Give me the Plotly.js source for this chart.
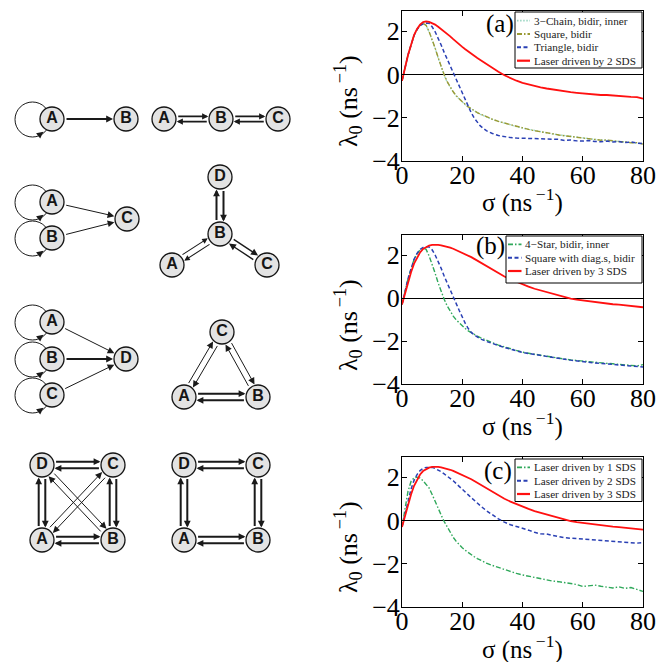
<!DOCTYPE html>
<html><head><meta charset="utf-8">
<script src="https://cdn.plot.ly/plotly-3.0.1.min.js"></script>
<style>html,body{margin:0;padding:0;background:#fff}</style>
</head><body><div id="chart" style="width:670px;height:662px"></div>
<script>
// ---------------- data ----------------
const sigma = [0,0.5,1,2,3,4,5,6,7,8,9,10,11,12,13,14,15,16,17,18,19,20,21,22,23,24,25,26,
  28,30,32,34,36,38,40,42,44,46,48,50,52,54,56,58,60,62,64,66,68,70,72,74,76,78,80];

// panel (a)
const chainA = [-0.3,-0.05,0.3,0.9,1.4,1.8,2.08,2.28,2.36,2.26,1.96,1.6,1.2,0.76,0.35,-0.04,-0.35,-0.6,-0.82,-1.0,-1.15,-1.28,-1.4,-1.5,-1.6,-1.69,-1.77,-1.84,
  -1.97,-2.08,-2.17,-2.26,-2.34,-2.41,-2.48,-2.54,-2.6,-2.65,-2.7,-2.75,-2.79,-2.83,-2.87,-2.91,-2.94,-2.97,-3.0,-3.02,-3.05,-3.07,-3.09,-3.12,-3.14,-3.17,-3.2];
const squareA = [-0.3,-0.05,0.3,0.9,1.4,1.8,2.08,2.28,2.36,2.27,1.98,1.62,1.22,0.78,0.37,-0.02,-0.33,-0.59,-0.8,-0.99,-1.14,-1.27,-1.39,-1.5,-1.6,-1.68,-1.76,-1.83,
  -1.96,-2.07,-2.17,-2.25,-2.33,-2.41,-2.47,-2.54,-2.6,-2.64,-2.7,-2.74,-2.8,-2.83,-2.86,-2.92,-2.93,-2.98,-3.0,-3.04,-3.03,-3.08,-3.1,-3.11,-3.16,-3.15,-3.22];
const triangleA = [-0.3,-0.05,0.3,0.9,1.4,1.8,2.08,2.25,2.34,2.37,2.36,2.2,1.97,1.7,1.36,1.02,0.7,0.4,0.12,-0.18,-0.5,-0.85,-1.18,-1.5,-1.78,-2.02,-2.22,-2.38,
  -2.6,-2.73,-2.82,-2.88,-2.92,-2.94,-2.95,-2.96,-2.98,-2.97,-3.0,-3.02,-3.0,-3.05,-3.03,-3.07,-3.08,-3.05,-3.1,-3.11,-3.08,-3.12,-3.1,-3.15,-3.12,-3.17,-3.2];
const laser2A = [-0.3,-0.05,0.3,0.9,1.4,1.82,2.1,2.3,2.42,2.45,2.43,2.38,2.3,2.2,2.1,2.0,1.88,1.76,1.63,1.5,1.38,1.27,1.16,1.05,0.95,0.85,0.76,0.67,
  0.48,0.3,0.12,-0.04,-0.17,-0.29,-0.39,-0.47,-0.54,-0.6,-0.65,-0.7,-0.74,-0.78,-0.82,-0.85,-0.88,-0.9,-0.93,-0.95,-0.95,-0.98,-1.0,-1.02,-1.04,-1.05,-1.12];

// panel (b)
const starB = [-0.3,-0.05,0.3,0.9,1.4,1.8,2.05,2.24,2.32,2.26,1.96,1.58,1.15,0.7,0.3,-0.06,-0.37,-0.62,-0.84,-1.02,-1.17,-1.3,-1.42,-1.53,-1.62,-1.7,-1.77,-1.84,
  -1.97,-2.08,-2.19,-2.28,-2.36,-2.44,-2.52,-2.57,-2.62,-2.67,-2.72,-2.76,-2.8,-2.84,-2.88,-2.91,-2.95,-2.97,-3.0,-3.02,-3.04,-3.06,-3.09,-3.1,-3.13,-3.16,-3.1];
const squareDiagB = [-0.3,-0.05,0.3,0.9,1.4,1.8,2.08,2.26,2.35,2.38,2.37,2.24,2.0,1.72,1.38,1.02,0.68,0.36,0.06,-0.26,-0.58,-0.9,-1.18,-1.42,-1.6,-1.72,-1.82,-1.9,
  -2.02,-2.12,-2.21,-2.3,-2.38,-2.46,-2.53,-2.58,-2.63,-2.68,-2.73,-2.78,-2.81,-2.85,-2.89,-2.93,-2.96,-2.99,-3.02,-3.04,-3.06,-3.08,-3.11,-3.13,-3.16,-3.18,-3.21];
const laser3 = [-0.3,-0.05,0.3,0.7,1.2,1.6,1.9,2.12,2.28,2.38,2.44,2.47,2.48,2.47,2.45,2.42,2.38,2.34,2.29,2.23,2.17,2.1,2.04,1.98,1.9,1.82,1.74,1.66,
  1.48,1.3,1.14,1.0,0.87,0.75,0.63,0.53,0.43,0.35,0.27,0.19,0.11,0.04,-0.03,-0.08,-0.12,-0.16,-0.2,-0.23,-0.26,-0.29,-0.31,-0.34,-0.36,-0.38,-0.43];

// panel (c)
const laser1C = [-0.3,0.1,0.6,1.35,1.8,1.97,2.0,1.95,1.83,1.68,1.5,1.2,0.86,0.55,0.25,-0.05,-0.3,-0.55,-0.78,-0.97,-1.13,-1.26,-1.38,-1.49,-1.59,-1.68,-1.76,-1.84,
  -1.97,-2.08,-2.18,-2.28,-2.36,-2.45,-2.52,-2.58,-2.63,-2.7,-2.75,-2.8,-2.83,-2.88,-2.91,-2.96,-3.05,-3.02,-2.99,-3.04,-3.08,-3.12,-3.07,-3.14,-3.1,-3.18,-3.28];
const laser2C = [-0.3,0.0,0.4,1.0,1.45,1.85,2.12,2.3,2.4,2.45,2.46,2.45,2.4,2.33,2.25,2.15,2.05,1.95,1.83,1.7,1.58,1.45,1.32,1.18,1.05,0.92,0.8,0.68,
  0.45,0.25,0.07,-0.08,-0.2,-0.28,-0.35,-0.45,-0.55,-0.62,-0.63,-0.7,-0.75,-0.8,-0.82,-0.85,-0.87,-0.88,-0.9,-0.95,-0.95,-0.97,-1.0,-1.02,-1.05,-1.05,-1.02];

const namesA = ['3\u2212Chain, bidir, inner','Square, bidir','Triangle, bidir','Laser driven by 2 SDS'];
const namesB = ['4\u2212Star, bidir, inner','Square with diag.s, bidir','Laser driven by 3 SDS'];
const namesC = ['Laser driven by 1 SDS','Laser driven by 2 SDS','Laser driven by 3 SDS'];
const panelLabels = ['(a)','(b)','(c)'];
const xTitle = '\u03c3 (ns<sup>\u2009\u22121</sup>)';
const yTitle = '\u03bb<sub>0</sub> (ns<sup>\u2009\u22121</sup>)';
const xTicks = [0,20,40,60,80];
const yTicks = [-4,-2,0,2];

// network diagrams: node labels and positions
const graphs = [
  {labels:['A','B'], nx:[52,126], ny:[119,119], loops:['A'], single:[['A','B',2]], dbl:[]},
  {labels:['A','B','C'], nx:[164,221,278], ny:[119,119,119], loops:[], single:[], dbl:[['A','B',1.8,2.6],['B','C',1.8,2.6]]},
  {labels:['A','B','C'], nx:[52,52,127], ny:[202,238,219], loops:['A','B'], single:[['A','C',1],['B','C',1]], dbl:[]},
  {labels:['D','B','A','C'], nx:[220,220,172,267], ny:[177,234,265,265], loops:[], single:[], dbl:[['B','D',2,3.5],['A','B',1.1,3],['B','C',1.4,3]]},
  {labels:['A','B','C','D'], nx:[52,52,52,126], ny:[322,359,395,359], loops:['A','B','C'], single:[['A','D',1],['B','D',2],['C','D',1]], dbl:[]},
  {labels:['C','A','B'], nx:[222,184,258], ny:[332,397,397], loops:[], single:[], dbl:[['A','C',1,3],['C','B',1,3],['A','B',2,3.3]]},
  {labels:['D','C','A','B'], nx:[42,113,42,113], ny:[465,465,540,540], loops:[], single:[], dbl:[['D','C',2,3.3],['A','B',2,3.3],['A','D',2,3.3],['B','C',2,3.3],['B','D',1,3],['A','C',1,3]]},
  {labels:['D','C','A','B'], nx:[184,258,184,258], ny:[465,465,540,540], loops:[], single:[], dbl:[['D','C',2,3.3],['A','B',2,3.3],['A','D',2,3.3],['B','C',2,3.3]]}
];

// ---------------- layout helpers ----------------
const W = 670, H = 662;
const PX = x => x / W, PY = y => 1 - y / H;
const serif = 'Liberation Serif, Times New Roman, serif';
const sans = 'Liberation Sans, Arial, sans-serif';

const st = {
  chain: {color:'#9ad6c2', width:1.4, dash:'1.5px,1.6px'},
  square:{color:'#9a9a34', width:1.4, dash:'5px,2px,1.5px,2px'},
  tri:   {color:'#2a40b4', width:1.5, dash:'4px,2.5px'},
  red:   {color:'#ff1010', width:1.8, dash:'solid'},
  green: {color:'#2fa85a', width:1.4, dash:'5px,2px,1.5px,2px'}
};

const traces = [];
function addLine(xa, ya, y, name, line) {
  traces.push({type:'scatter', mode:'lines', x:sigma, y:y, name:name, xaxis:xa, yaxis:ya,
    line:Object.assign({}, line), showlegend:false, hoverinfo:'skip'});
  return traces.length - 1;
}
const legA = [addLine('x','y',chainA,namesA[0],st.chain), addLine('x','y',squareA,namesA[1],st.square),
              addLine('x','y',triangleA,namesA[2],st.tri), addLine('x','y',laser2A,namesA[3],st.red)];
const legB = [addLine('x2','y2',starB,namesB[0],st.green), addLine('x2','y2',squareDiagB,namesB[1],st.tri),
              addLine('x2','y2',laser3,namesB[2],st.red)];
const legC = [addLine('x3','y3',laser1C,namesC[0],st.green), addLine('x3','y3',laser2C,namesC[1],st.tri),
              addLine('x3','y3',laser3,namesC[2],st.red)];

// panels geometry in pixels
const panels = [
  {top:11, bottom:161, leg:legA, box:[515,642,12,68], rows:[20.7,34,47.3,60.7], samp:[517,530], tx:531.5, lab:[500,24]},
  {top:235, bottom:384, leg:legB, box:[506,642,236,283], rows:[244.3,257.7,271], samp:[508,521.5], tx:523, lab:[490,246]},
  {top:457, bottom:607, leg:legC, box:[515,642,459,501.5], rows:[467.3,480.7,494], samp:[517,530], tx:531.5, lab:[498,471]}
];

const layout = {
  width:W, height:H, margin:{l:0,r:0,t:0,b:0}, paper_bgcolor:'#fff', plot_bgcolor:'rgba(0,0,0,0)',
  showlegend:false, shapes:[], annotations:[], font:{family:serif, color:'#000'}
};

panels.forEach((p, i) => {
  const sfx = i === 0 ? '' : String(i + 1);
  layout['xaxis' + sfx] = {
    domain:[PX(402), PX(643)], anchor:'y' + sfx, range:[0,80], tickvals:xTicks,
    ticks:'inside', ticklen:5, tickwidth:1, tickcolor:'#000', showline:true, linecolor:'#000', linewidth:1,
    mirror:'ticks', showgrid:false, zeroline:false, fixedrange:true, ticklabelstandoff:-9,
    tickfont:{family:serif, size:26, color:'#000'}
  };
  layout['yaxis' + sfx] = {
    domain:[PY(p.bottom), PY(p.top)], anchor:'x' + sfx, range:[-4,2.93], tickvals:yTicks,
    ticks:'inside', ticklen:5, tickwidth:1, tickcolor:'#000', showline:true, linecolor:'#000', linewidth:1,
    mirror:'ticks', showgrid:false, zeroline:true, zerolinecolor:'#000', zerolinewidth:1, fixedrange:true,
    ticklabelstandoff:-4,
    tickfont:{family:serif, size:26, color:'#000'}
  };
  // axis titles
  layout.annotations.push({xref:'paper', yref:'paper', x:PX(522.5), y:PY(p.bottom + 40), xanchor:'center', yanchor:'middle',
    text:xTitle, showarrow:false, font:{family:serif, size:25, color:'#000'}});
  layout.annotations.push({xref:'paper', yref:'paper', x:PX(348), y:PY(p.top + 90), xanchor:'center', yanchor:'middle',
    text:yTitle, textangle:-90, showarrow:false, font:{family:serif, size:26, color:'#000'}});
  // legend box
  layout.shapes.push({type:'rect', xref:'paper', yref:'paper', x0:PX(p.box[0]), x1:PX(p.box[1]),
    y0:PY(p.box[3]), y1:PY(p.box[2]), line:{color:'#000', width:1}, fillcolor:'#fff', layer:'above'});
  p.leg.forEach((ti, k) => {
    const tr = traces[ti];
    layout.shapes.push({type:'line', xref:'paper', yref:'paper', x0:PX(p.samp[0]), x1:PX(p.samp[1]),
      y0:PY(p.rows[k]), y1:PY(p.rows[k]), line:{color:tr.line.color, width:tr.line.width + 0.4, dash:tr.line.dash}, layer:'above'});
    layout.annotations.push({xref:'paper', yref:'paper', x:PX(p.tx), y:PY(p.rows[k]), xanchor:'left', yanchor:'middle',
      text:tr.name, showarrow:false, font:{family:serif, size:11.2, color:'#222'}});
  });
  layout.annotations.push({xref:'paper', yref:'paper', x:PX(p.lab[0]), y:PY(p.lab[1]), xanchor:'center', yanchor:'middle',
    text:panelLabels[i], showarrow:false, font:{family:serif, size:25, color:'#000'}});
});

// diagram axes (pixel-like coordinates)
layout.xaxis4 = {domain:[0, 0.49], range:[0, 0.49 * W], visible:false, fixedrange:true, anchor:'y4'};
layout.yaxis4 = {domain:[0, 1], range:[H, 0], visible:false, fixedrange:true, anchor:'x4'};

const R = 13;
function edge(P, Q, off, w) {
  const dx = Q[0] - P[0], dy = Q[1] - P[1], L = Math.hypot(dx, dy);
  const ux = dx / L, uy = dy / L, nx = uy, ny = -ux;
  const a = Math.sqrt(R * R - off * off);
  layout.annotations.push({xref:'x4', yref:'y4', axref:'x4', ayref:'y4',
    x: Q[0] - ux * a + nx * off, y: Q[1] - uy * a + ny * off,
    ax: P[0] + ux * a + nx * off, ay: P[1] + uy * a + ny * off,
    text:'', showarrow:true, arrowhead:2, arrowsize: w >= 1.8 ? 0.68 : (w > 1 ? 1.0 : 1.35), arrowwidth:w,
    arrowcolor:'#1a1a1a', standoff:0, startstandoff:0});
}
const nodeX = [], nodeY = [], nodeT = [];
graphs.forEach(g => {
  const pos = {};
  g.labels.forEach((l, k) => { pos[l] = [g.nx[k], g.ny[k]]; nodeX.push(g.nx[k]); nodeY.push(g.ny[k]); nodeT.push(l); });
  g.loops.forEach(l => {
    const [cx, cy] = pos[l];
    layout.shapes.push({type:'circle', xref:'x4', yref:'y4', x0:cx - 37, x1:cx - 2, y0:cy - 17, y1:cy + 18,
      line:{color:'#1a1a1a', width:1}, layer:'below'});
    layout.annotations.push({xref:'x4', yref:'y4', axref:'x4', ayref:'y4', x:cx - 8.5, y:cy + 12.8,
      ax:cx - 14, ay:cy + 17, text:'', showarrow:true, arrowhead:2, arrowsize:1.35, arrowwidth:1,
      arrowcolor:'#1a1a1a', standoff:0, startstandoff:0});
  });
  g.single.forEach(e => edge(pos[e[0]], pos[e[1]], 0, e[2]));
  g.dbl.forEach(e => { edge(pos[e[0]], pos[e[1]], e[3], e[2]); edge(pos[e[1]], pos[e[0]], e[3], e[2]); });
});
traces.push({type:'scatter', mode:'markers+text', x:nodeX, y:nodeY, text:nodeT, xaxis:'x4', yaxis:'y4',
  textposition:'middle center', cliponaxis:false, hoverinfo:'skip', showlegend:false,
  marker:{size:24, color:'#e3e3e3', line:{color:'#151515', width:1.3}},
  textfont:{family:sans, size:16, color:'#151515', weight:700}});

Plotly.newPlot('chart', traces, layout, {staticPlot:true, displayModeBar:false});
</script></body></html>
